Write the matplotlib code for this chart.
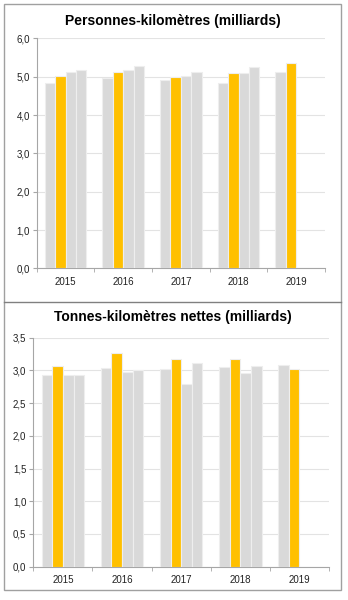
import matplotlib.pyplot as plt
import numpy as np
from matplotlib.patches import Rectangle
from matplotlib.lines import Line2D

plt.rcParams['font.family'] = ['Liberation Sans', 'DejaVu Sans']

years = ["2015", "2016", "2017", "2018", "2019"]
# one value per quarter, 2019 only has the first two
pkm = [[4.84, 5.01, 5.12, 5.18],
       [4.97, 5.13, 5.17, 5.27],
       [4.92, 4.99, 5.02, 5.13],
       [4.84, 5.09, 5.11, 5.25],
       [5.13, 5.35, np.nan, np.nan]]
tkm = [[2.93, 3.07, 2.93, 2.93],
       [3.03, 3.27, 2.97, 3.00],
       [3.02, 3.17, 2.79, 3.11],
       [3.05, 3.17, 2.96, 3.06],
       [3.09, 3.02, np.nan, np.nan]]

gray = "#d9d9d9"
yellow = "#ffc000"
bar_colors = [gray, yellow, gray, gray]


def draw(ax, data, ymax, step):
    data = np.array(data)
    x = np.arange(len(years))
    width = 0.18
    offsets = [-0.27, -0.09, 0.09, 0.27]
    for q in range(4):
        ax.bar(x + offsets[q], data[:, q], width=width, color=bar_colors[q],
               edgecolor="#eeeeee", linewidth=0.8, zorder=3)
    ax.set_xlim(-0.5, len(years) - 0.5)
    ax.set_ylim(0, ymax)
    ticks = np.arange(0, ymax + step / 2, step)
    ax.set_yticks(ticks)
    ax.set_yticklabels([f"{t:.1f}".replace(".", ",") for t in ticks])
    ax.set_xticks(x)
    ax.set_xticklabels(years)
    ax.set_xticks(np.arange(-0.5, len(years)), minor=True)
    ax.tick_params(axis="x", which="major", length=0, pad=6,
                   labelsize=7, colors="#222222")
    ax.tick_params(axis="x", which="minor", length=3, color="#a6a6a6")
    ax.tick_params(axis="y", length=3, color="#a6a6a6", labelsize=7,
                   labelcolor="#222222", pad=2)
    ax.grid(axis="y", color="#e3e3e3", linewidth=0.8, zorder=0)
    for s in ["top", "right"]:
        ax.spines[s].set_visible(False)
    for s in ["left", "bottom"]:
        ax.spines[s].set_color("#a6a6a6")
        ax.spines[s].set_linewidth(0.8)


fig = plt.figure(figsize=(3.48, 6.0), dpi=100)
ax1 = fig.add_axes([0.1055, 0.5528, 0.8285, 0.3832])
ax2 = fig.add_axes([0.0957, 0.0555, 0.8497, 0.3817])

draw(ax1, pkm, 6.0, 1.0)
draw(ax2, tkm, 3.5, 0.5)

title_font = dict(fontsize=10, fontweight="bold", ha="center", va="center")
fig.text(172.5 / 348, 1 - 21 / 600, "Personnes-kilomètres (milliards)",
         **title_font)
fig.text(172.5 / 348, 1 - 317 / 600, "Tonnes-kilomètres nettes (milliards)",
         **title_font)

# frame around both panels
fig.patches.append(Rectangle((4 / 348, 1 - 590 / 600), 337 / 348, 586 / 600,
                             transform=fig.transFigure, fill=False,
                             edgecolor="#a0a0a0", linewidth=1))
fig.lines.append(Line2D([4 / 348, 341 / 348], [1 - 302 / 600] * 2,
                        transform=fig.transFigure, color="#808080",
                        linewidth=1))

fig.savefig("out.png", dpi=100)
